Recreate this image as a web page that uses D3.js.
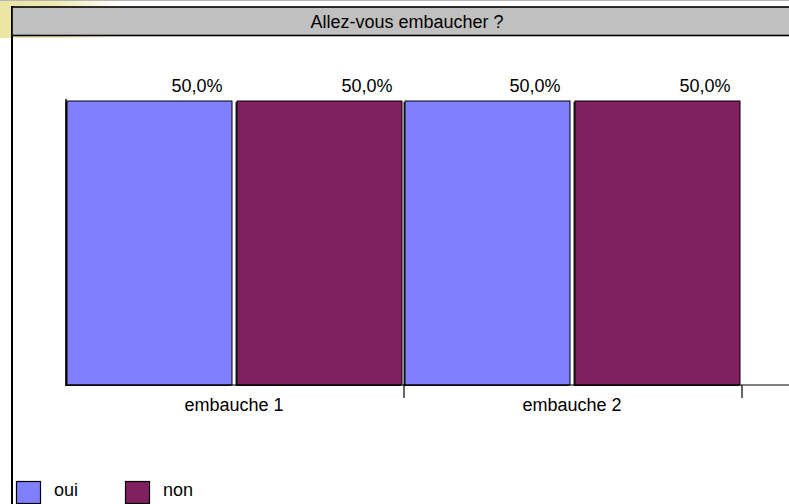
<!DOCTYPE html>
<html>
<head>
<meta charset="utf-8">
<script src="https://cdn.jsdelivr.net/npm/d3@7"></script>
<style>
  body { margin: 0; background: #fff; }
  svg { display: block; font-family: "Liberation Sans", Arial, sans-serif; }
</style>
</head>
<body>
<svg id="chart" width="789" height="504"></svg>
<script>
// data
var title = "Allez-vous embaucher ?";
var categories = ["embauche 1", "embauche 2"];
var series = ["oui", "non"];
var colors = ["#8080ff", "#802060"];
var oui = [0.5, 0.5];
var non = [0.5, 0.5];

var svg = d3.select("#chart");
var W = 789, H = 504;
var fs = 18;

// yellowish fade behind the top-left corner
var defs = svg.append("defs");
var grad = defs.append("linearGradient").attr("id", "fade").attr("x1", 0).attr("x2", 1).attr("y1", 0).attr("y2", 0);
grad.append("stop").attr("offset", 0).attr("stop-color", "#ebe6a2");
grad.append("stop").attr("offset", 0.45).attr("stop-color", "#eee9ae");
grad.append("stop").attr("offset", 1).attr("stop-color", "#ffffff");
svg.append("rect").attr("x", 0).attr("y", 0).attr("width", 120).attr("height", 38).attr("fill", "url(#fade)");
svg.append("line").attr("x1", 0).attr("x2", W).attr("y1", 0.5).attr("y2", 0.5).attr("stroke", "#b4b4b4");

// frame + title bar
svg.append("rect").attr("x", 12).attr("y", 38).attr("width", W).attr("height", H).attr("fill", "#fff");
svg.append("line").attr("x1", 12).attr("x2", 12).attr("y1", 6).attr("y2", H).attr("stroke", "#000").attr("stroke-width", 2);
svg.append("rect").attr("x", 12).attr("y", 7).attr("width", W).attr("height", 28.5)
  .attr("fill", "#c0c0c0").attr("stroke", "#000").attr("stroke-width", 1.6);
svg.append("text").attr("x", 407).attr("y", 27.5).attr("text-anchor", "middle")
  .attr("font-size", fs).attr("fill", "#000").text(title);

// scales
var margin = {left: 66, top: 101, bottom: 385};
var x0 = d3.scaleBand().domain(categories).range([66, 742]);
var x1 = d3.scaleBand().domain(series).range([1, 336]).paddingInner(5 / 170);
var y = d3.scaleLinear().domain([0, 0.5]).range([margin.bottom, margin.top]);

var rows = categories.map(function(c, i) {
  return {cat: c, vals: [oui[i], non[i]]};
});

var fmt = function(v) { return d3.format(".1f")(v * 100).replace(".", ",") + "%"; };

var g = svg.append("g");
rows.forEach(function(r) {
  r.vals.forEach(function(v, j) {
    var bx = x0(r.cat) + x1(series[j]);
    var bw = x1.bandwidth();
    // small dark shadow like the original
    g.append("rect").attr("x", bx - 1.5).attr("y", y(v) + 1).attr("width", bw).attr("height", y(0) - y(v))
      .attr("fill", "#222");
    g.append("rect").attr("x", bx).attr("y", y(v)).attr("width", bw).attr("height", y(0) - y(v))
      .attr("fill", colors[j]).attr("stroke", "#000").attr("stroke-width", 1);
    g.append("text").attr("x", bx + bw / 2 + 22).attr("y", y(v) - 9)
      .attr("font-size", fs).attr("fill", "#000").text(fmt(v));
  });
});

// axes
svg.append("line").attr("x1", 66).attr("x2", 66).attr("y1", 99).attr("y2", y(0) + 1)
  .attr("stroke", "#000").attr("stroke-width", 1.5);
svg.append("line").attr("x1", 66).attr("x2", W).attr("y1", y(0)).attr("y2", y(0))
  .attr("stroke", "#000").attr("stroke-width", 1.2);
categories.forEach(function(c) {
  var tx = x0(c) + x0.bandwidth();
  svg.append("line").attr("x1", tx).attr("x2", tx).attr("y1", y(0)).attr("y2", y(0) + 13)
    .attr("stroke", "#000").attr("stroke-width", 1.2);
  svg.append("text").attr("x", x0(c) + x0.bandwidth() / 2 - 1).attr("y", y(0) + 25.5)
    .attr("text-anchor", "middle").attr("font-size", fs).attr("fill", "#000").text(c);
});

// legend
var legX = [16, 125];
series.forEach(function(s, j) {
  svg.append("rect").attr("x", legX[j] + 0.5).attr("y", 481.5).attr("width", 24).attr("height", 22)
    .attr("fill", colors[j]).attr("stroke", "#000").attr("stroke-width", 1.2);
  svg.append("text").attr("x", legX[j] + 38).attr("y", 495.5).attr("font-size", fs).attr("fill", "#000").text(s);
});
</script>
</body>
</html>
